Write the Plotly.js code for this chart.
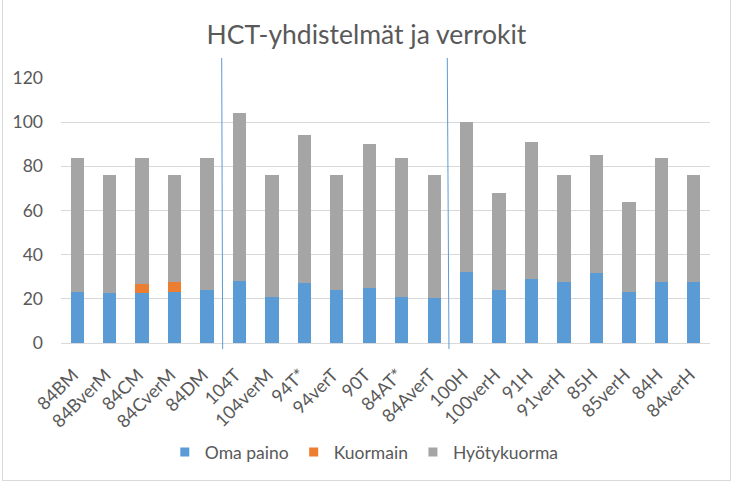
<!DOCTYPE html>
<html>
<head>
<meta charset="utf-8">
<script src="https://cdn.plot.ly/plotly-3.0.1.min.js"></script>
<style>
  html, body { margin: 0; padding: 0; background: #fff; }
  #wrap { position: relative; width: 733px; height: 483px; }
  #chart { width: 733px; height: 483px; }
  #frame { position: absolute; left: 2px; top: 0px; width: 729px; height: 481px; border: 1px solid #d9d9d9; border-top: none; box-sizing: border-box; pointer-events: none; }
</style>
</head>
<body>
<div id="wrap">
  <div id="chart"></div>
  <div id="frame"></div>
</div>
<script>
const categories = ['84BM','84BverM','84CM','84CverM','84DM','104T','104verM','94T*','94verT','90T','84AT*','84AverT','100H','100verH','91H','91verH','85H','85verH','84H','84verH'];
const omaPaino  = [23, 22.5, 22.5, 23.3, 24, 28.3, 21, 27, 24, 24.7, 21, 20.2, 32, 24, 29.2, 27.4, 31.5, 23.3, 27.8, 27.4];
const kuormain  = [0, 0, 4.3, 4.4, 0, 0, 0, 0, 0, 0, 0, 0, 0, 0, 0, 0, 0, 0, 0, 0];
const hyotykuorma = [61, 53.5, 57.2, 48.3, 60, 75.8, 55, 67, 52, 65.3, 63, 55.8, 68, 44, 61.8, 48.6, 53.5, 40.7, 56.2, 48.6];
const seriesNames = ['Oma paino', 'Kuormain', 'Hyötykuorma'];
const yTicks = [0, 20, 40, 60, 80, 100, 120];

const colors = ['#5B9BD5', '#ED7D31', '#A5A5A5'];
const FONT = 'Lato, "Open Sans", sans-serif';
const TXT = '#595959';

const seriesVals = [omaPaino, kuormain, hyotykuorma];
const traces = seriesVals.map((vals, i) => ({
  type: 'bar', x: categories, y: vals, name: seriesNames[i],
  marker: { color: colors[i], line: { width: 0 } },
  showlegend: false, hoverinfo: 'x+y+name'
}));
// legend entries with small square markers
seriesNames.forEach((n, i) => traces.push({
  type: 'scatter', mode: 'markers', x: [null], y: [null], name: n,
  marker: { symbol: 'square', size: 9, color: colors[i] }, showlegend: true
}));

const layout = {
  width: 733, height: 483,
  margin: { l: 61, r: 23, t: 78, b: 140 },
  paper_bgcolor: '#ffffff', plot_bgcolor: '#ffffff',
  barmode: 'stack', bargap: 0.59,
  font: { family: FONT, color: TXT, size: 17.5 },
  title: { text: 'HCT-yhdistelmät ja verrokit', font: { family: FONT, size: 26.5, color: TXT },
           x: 0.5, xref: 'container', xanchor: 'center', y: 1 - 35/483, yref: 'container', yanchor: 'middle' },
  xaxis: { type: 'category', tickangle: -45, showgrid: false, showline: false, ticks: '',
           ticklabelstandoff: 17, ticklabelshift: -4,
           tickfont: { family: FONT, size: 18, color: TXT }, zeroline: false, automargin: false },
  yaxis: { range: [0, 120], tickvals: yTicks, ticktext: yTicks.map(String), showgrid: true,
           gridcolor: '#D9D9D9', gridwidth: 1, zeroline: true, zerolinecolor: '#D9D9D9', zerolinewidth: 1,
           showline: false, ticks: '', ticklabelstandoff: 17,
           tickfont: { family: FONT, size: 17.5, color: TXT }, automargin: false, fixedrange: true },
  legend: { orientation: 'h', xref: 'container', yref: 'container', x: 0.497, xanchor: 'center',
            y: 1 - 452/483, yanchor: 'middle', font: { family: FONT, size: 17.5, color: TXT },
            itemwidth: 30, traceorder: 'normal' },
  shapes: [
    { type: 'line', xref: 'paper', yref: 'paper', x0: 0.2476, x1: 0.2491, y0: 1.0755, y1: -0.0226,
      line: { color: '#5B9BD5', width: 1 } },
    { type: 'line', xref: 'paper', yref: 'paper', x0: 0.5952, x1: 0.5978, y0: 1.0755, y1: -0.0226,
      line: { color: '#5B9BD5', width: 1 } }
  ]
};

Plotly.newPlot('chart', traces, layout, { displayModeBar: false, staticPlot: true });
</script>
</body>
</html>
